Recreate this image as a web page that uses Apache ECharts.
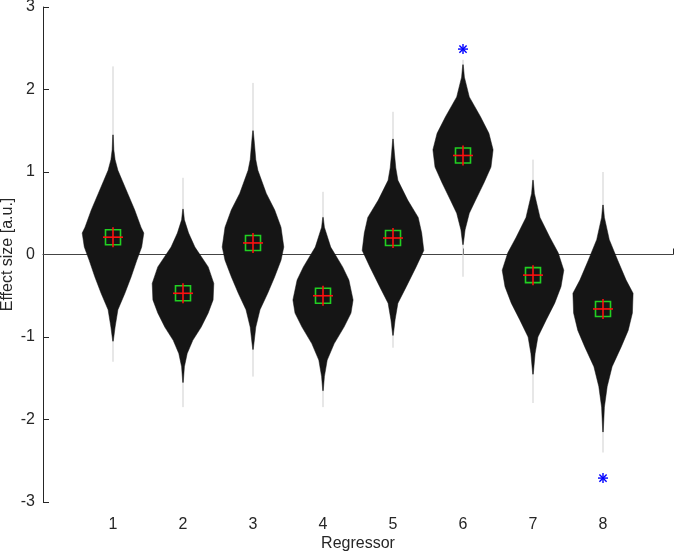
<!DOCTYPE html>
<html>
<head>
<meta charset="utf-8">
<script src="https://cdn.jsdelivr.net/npm/echarts@6/dist/echarts.min.js"></script>
<style>html,body{margin:0;padding:0;background:#fff}#chart{width:675px;height:556px}</style>
</head>
<body>
<div id="chart"></div>
<script>
// ---- data ----
const regressors = [1, 2, 3, 4, 5, 6, 7, 8];
const xTickLabels = ['1', '2', '3', '4', '5', '6', '7', '8'];
const yTickLabels = ['-3', '-2', '-1', '0', '1', '2', '3'];
// violin profiles: [effect size, half width in regressor units], top to bottom
const violin1 = [[1.45,0.004],[1.27,0.012],[1.15,0.03],[1.02,0.07],[0.9,0.13],[0.74,0.21],[0.54,0.31],[0.33,0.40],[0.26,0.44],[0.09,0.41],[-0.07,0.34],[-0.27,0.26],[-0.47,0.17],[-0.67,0.07],[-0.88,0.03],[-1.05,0.004]];
const violin2 = [[0.55,0.004],[0.42,0.02],[0.26,0.08],[0.09,0.17],[-0.15,0.36],[-0.35,0.44],[-0.55,0.43],[-0.71,0.36],[-0.88,0.26],[-1.04,0.14],[-1.2,0.06],[-1.36,0.02],[-1.55,0.004]];
const violin3 = [[1.5,0.004],[1.35,0.02],[1.15,0.04],[1.02,0.07],[0.74,0.19],[0.54,0.31],[0.33,0.40],[0.09,0.44],[-0.07,0.40],[-0.27,0.31],[-0.47,0.21],[-0.67,0.10],[-0.88,0.04],[-1.15,0.004]];
const violin4 = [[0.45,0.004],[0.33,0.02],[0.09,0.11],[-0.15,0.28],[-0.31,0.37],[-0.55,0.43],[-0.71,0.40],[-0.88,0.30],[-1.08,0.16],[-1.28,0.06],[-1.48,0.02],[-1.65,0.004]];
const violin5 = [[1.4,0.004],[1.23,0.02],[1.05,0.04],[0.9,0.07],[0.66,0.21],[0.45,0.36],[0.26,0.41],[0.05,0.44],[-0.15,0.33],[-0.39,0.19],[-0.59,0.07],[-0.79,0.03],[-0.98,0.004]];
const violin6 = [[2.3,0.004],[2.15,0.02],[1.91,0.09],[1.67,0.25],[1.47,0.37],[1.27,0.43],[1.06,0.40],[0.87,0.30],[0.66,0.18],[0.5,0.09],[0.3,0.03],[0.12,0.004]];
const violin7 = [[0.9,0.004],[0.74,0.02],[0.45,0.10],[0.21,0.24],[0.02,0.36],[-0.19,0.44],[-0.39,0.40],[-0.59,0.31],[-0.79,0.19],[-1.0,0.07],[-1.2,0.03],[-1.45,0.004]];
const violin8 = [[0.6,0.004],[0.45,0.02],[0.18,0.09],[-0.07,0.21],[-0.31,0.33],[-0.47,0.43],[-0.71,0.42],[-0.92,0.36],[-1.12,0.26],[-1.36,0.13],[-1.6,0.06],[-1.85,0.02],[-2.15,0.004]];
const violins = [violin1, violin2, violin3, violin4, violin5, violin6, violin7, violin8];
const tailTop = [2.28, 0.93, 2.08, 0.76, 1.73, 2.36, 1.15, 1.0];
const tailBottom = [-1.3, -1.85, -1.48, -1.85, -1.13, -0.27, -1.8, -2.4];
const means = [0.21, -0.47, 0.14, -0.5, 0.2, 1.2, -0.25, -0.66];
const outlierX = [6, 8];
const outlierY = [2.49, -2.71];
const zeroLine = [[0, 9, 0]];

const FONT = 'Liberation Sans, Arial, Helvetica, sans-serif';
const AX = '#262626';

const chart = echarts.init(document.getElementById('chart'), null, {renderer: 'canvas'});

const violinData = regressors.map((r, i) => [r, i]);
const tailData = regressors.map((r, i) => [r, tailTop[i], tailBottom[i]]);
const meanData = regressors.map((r, i) => [r, means[i]]);
const outlierData = outlierX.map((x, i) => [x, outlierY[i]]);

chart.setOption({
  animation: false,
  backgroundColor: '#fff',
  grid: {left: 43, right: 2, top: 7, bottom: 54, containLabel: false, outerBoundsMode: 'none'},
  xAxis: {
    type: 'value', min: 0, max: 9, interval: 1,
    name: 'Regressor', nameLocation: 'middle', nameGap: 34, nameMoveOverlap: false,
    nameTextStyle: {color: AX, fontSize: 16, fontFamily: FONT},
    axisLine: {show: true, lineStyle: {color: AX, width: 1}},
    axisTick: {show: true, inside: true, length: 6, lineStyle: {color: AX}},
    axisLabel: {color: AX, fontSize: 16, fontFamily: FONT, margin: 15,
      formatter: v => (v >= 1 && v <= 8) ? xTickLabels[v - 1] : ''},
    splitLine: {show: false}
  },
  yAxis: {
    type: 'value', min: -3, max: 3, interval: 1,
    name: 'Effect size [a.u.]', nameLocation: 'middle', nameGap: 35, nameRotate: 90,
    nameMoveOverlap: false,
    nameTextStyle: {color: AX, fontSize: 16, fontFamily: FONT, verticalAlign: 'middle'},
    axisLine: {show: true, lineStyle: {color: AX, width: 1}},
    axisTick: {show: true, inside: true, length: 6, lineStyle: {color: AX}},
    axisLabel: {color: AX, fontSize: 16, fontFamily: FONT, margin: 8,
      formatter: v => yTickLabels[v + 3]},
    splitLine: {show: false}
  },
  series: [
    {
      type: 'custom', data: zeroLine, z: 1, silent: true,
      renderItem: (params, api) => {
        const a = api.coord([api.value(0), api.value(2)]);
        const b = api.coord([api.value(1), api.value(2)]);
        return {type: 'line', shape: {x1: a[0], y1: a[1], x2: b[0], y2: b[1]},
          style: {stroke: '#444', lineWidth: 1}};
      }
    },
    {
      type: 'custom', data: tailData, z: 2, silent: true,
      renderItem: (params, api) => {
        const a = api.coord([api.value(0), api.value(1)]);
        const b = api.coord([api.value(0), api.value(2)]);
        return {type: 'line', shape: {x1: a[0], y1: a[1], x2: b[0], y2: b[1]},
          style: {stroke: '#cfcfcf', lineWidth: 1}};
      }
    },
    {
      type: 'custom', data: violinData, z: 3, silent: true,
      renderItem: (params, api) => {
        const x = api.value(0);
        const prof = violins[api.value(1)];
        const right = prof.map(p => api.coord([x + p[1], p[0]]));
        const left = prof.slice().reverse().map(p => api.coord([x - p[1], p[0]]));
        return {type: 'polygon', shape: {points: right.concat(left)},
          style: {fill: '#151515', stroke: '#151515', lineWidth: 0.5}};
      }
    },
    {
      type: 'custom', data: meanData, z: 4, silent: true,
      renderItem: (params, api) => {
        const c = api.coord([api.value(0), api.value(1)]);
        const s = 7.5, p = 10;
        return {type: 'group', children: [
          {type: 'rect', shape: {x: c[0] - s, y: c[1] - s, width: 2 * s, height: 2 * s},
            style: {fill: 'none', stroke: '#22d022', lineWidth: 1.6}},
          {type: 'line', shape: {x1: c[0] - p, y1: c[1], x2: c[0] + p, y2: c[1]},
            style: {stroke: '#ff1010', lineWidth: 1.6}},
          {type: 'line', shape: {x1: c[0], y1: c[1] - p, x2: c[0], y2: c[1] + p},
            style: {stroke: '#ff1010', lineWidth: 1.6}}
        ]};
      }
    },
    {
      type: 'custom', data: outlierData, z: 5, silent: true,
      renderItem: (params, api) => {
        const c = api.coord([api.value(0), api.value(1)]);
        const r = 5, d = 3.6;
        const st = {stroke: '#0000ff', lineWidth: 1.4};
        return {type: 'group', children: [
          {type: 'line', shape: {x1: c[0] - r, y1: c[1], x2: c[0] + r, y2: c[1]}, style: st},
          {type: 'line', shape: {x1: c[0], y1: c[1] - r, x2: c[0], y2: c[1] + r}, style: st},
          {type: 'line', shape: {x1: c[0] - d, y1: c[1] - d, x2: c[0] + d, y2: c[1] + d}, style: st},
          {type: 'line', shape: {x1: c[0] - d, y1: c[1] + d, x2: c[0] + d, y2: c[1] - d}, style: st}
        ]};
      }
    }
  ]
});
</script>
</body>
</html>
